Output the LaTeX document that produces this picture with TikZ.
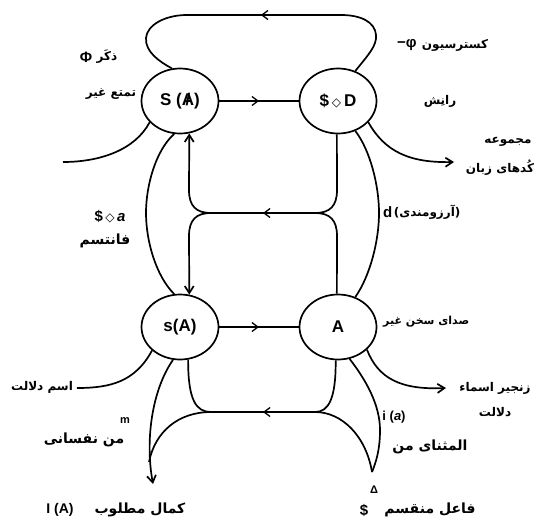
\documentclass[tikz,border=0pt]{standalone}
\usepackage{fontspec}
\setmainfont{Liberation Sans}
\newfontfamily\fa[Script=Arabic]{DejaVu Sans}
\newfontfamily\sym{DejaVu Sans}
\TeXXeTstate=1
\usetikzlibrary{arrows.meta,decorations.markings,shapes.geometric,positioning}

\newcommand{\barA}{\ooalign{A\cr\hidewidth/\hidewidth\cr}}
\newcommand{\dia}{{\sym\fontsize{12}{12}\selectfont ◇}}
\newcommand{\rtl}[1]{\beginR #1\endR}

\tikzset{
  place/.style={ellipse,draw,line width=1.7pt,minimum width=77pt,minimum height=65pt,
    inner sep=0pt,font=\bfseries\fontsize{17}{17}\selectfont},
  chain/.style={line width=1.7pt},
  midarrow/.style={postaction={decorate},decoration={markings,
    mark=at position .5 with {\arrow{Straight Barb[length=6pt,width=9pt,line width=1.3pt]}}}},
  tip/.style={-{Straight Barb[length=7pt,width=9pt]}},
  lab/.style={font=\bfseries\fontsize{15}{15}\selectfont,inner sep=0pt},
  falab/.style={font=\fa\bfseries\fontsize{12}{14}\selectfont,inner sep=0pt},
  bigfa/.style={font=\fa\bfseries\fontsize{14}{16}\selectfont,inner sep=0pt},
}

\begin{document}
\begin{tikzpicture}[x=1pt,y=-1pt]
  \useasboundingbox (0,0) rectangle (548,530);
  % the four places
  \node[place] (SA) at (180,101) {S (\barA)};
  \node[place] (SD) at (338,101) {\$\,\dia\,D};
  \node[place] (sA) at (180,327) {s(A)};
  \node[place] (A) at (338,327) {A};
  % junctions and loose ends
  \coordinate (jL) at (211,213);
  \coordinate (jR) at (315,213);
  \coordinate (jLb) at (211,412);
  \coordinate (jRb) at (315,412);
  \coordinate (cusp) at (372,472);
  \coordinate (jouis) at (63,162);
  \coordinate (codesTip) at (454,162);
  \coordinate (chainTip) at (446,388);
  \coordinate (dalEnd) at (77,388);
  \coordinate (IAtip) at (153,484);
  \coordinate (mergeL) at (149,462);

  % upper chain and its loop
  \draw[chain,midarrow] (SA) -- (SD);
  \draw[chain,midarrow] (SD.60) .. controls (368,55) and (377,46) .. (376,35)
    .. controls (375,22) and (361,15) .. (341,15) -- (187,15)
    .. controls (165,15) and (147,25) .. (146,38)
    .. controls (145,52) and (160,62) .. (SA.104);
  \draw[chain] (SA.-145) .. controls (135,150) and (100,162) .. (jouis);
  \draw[chain,tip] (SD.-35) .. controls (385,152) and (410,163) .. (codesTip);

  % middle return vector
  \draw[chain,midarrow] (jR) -- (jL);
  \draw[chain,tip] (jL) .. controls (196,213) and (189,206) .. (189,190) -- (SA.-74);
  \draw[chain,tip] (jL) .. controls (196,213) and (189,220) .. (189,236) -- (sA.74);
  \draw[chain] (jR) .. controls (330,213) and (337,206) .. (337,190) -- (SD.-92);
  \draw[chain] (jR) .. controls (330,213) and (337,220) .. (337,236) -- (A.92);
  \draw[chain] (SA.-100) .. controls (156,150) and (146,185) .. (146,213)
    .. controls (146,241) and (156,276) .. (sA.100);
  \draw[chain] (SD.-60) .. controls (370,150) and (379,185) .. (379,213)
    .. controls (379,241) and (370,276) .. (A.60);

  % lower chain
  \draw[chain,midarrow] (sA) -- (A);
  \draw[chain] (sA.-140) .. controls (135,382) and (110,388) .. (dalEnd);
  \draw[chain,tip] (A.-38) .. controls (378,378) and (400,390) .. (chainTip);
  \draw[chain] (sA.-76) .. controls (188,400) and (196,412) .. (jLb);
  \draw[chain] (A.-94) .. controls (336,400) and (328,412) .. (jRb);
  \draw[chain,midarrow] (jRb) -- (jLb);
  \draw[chain,tip] (sA.-102) .. controls (152,390) and (145,440) .. (IAtip);
  \draw[chain] (jLb) .. controls (178,412) and (155,432) .. (mergeL);
  \draw[chain] (A.-70) .. controls (366,380) and (380,405) .. (380,430)
    .. controls (380,450) and (376,462) .. (cusp);
  \draw[chain] (jRb) .. controls (342,412) and (366,436) .. (cusp);

  % labels
  \node[falab] (zakar) at (107,57) {\rtl{ذکَر}};
  \node[lab,left=4pt of zakar] (phi) {Φ};
  \node[falab] (tamatto) at (111,94) {\rtl{تمتع غیر}};
  \node[falab] (castr) at (455,45) {\rtl{کسترسیون}};
  \node[lab,left=5pt of castr] (mphi) {−φ};
  \node[falab] (ranesh) at (440,101) {\rtl{رانِش}};
  \node[falab] (majmu) at (508,142) {\rtl{مجموعه}};
  \node[falab] (codes) at (500,168) {\rtl{کُدهای زبان}};
  \node[lab,anchor=west] (dsmall) at (383,212) {d};
  \node[falab,right=1pt of dsmall] (arezu) {(آرزومندی)};
  \node[lab] (fant) at (110,217) {\$\,\dia\,\textit{a}};
  \node[bigfa] (fantT) at (105,241) {\rtl{فانتسم}};
  \node[falab,font=\fa\bfseries\fontsize{11}{13}\selectfont,anchor=west] (seda) at (383,322) {\rtl{صدای سخن غیر}};
  \node[falab] (zanjir) at (495,388) {\rtl{زنجیر اسماء}};
  \node[falab] (dalalat) at (495,412) {\rtl{دلالت}};
  \node[falab] (esm) at (42,387) {\rtl{اسم دلالت}};
  \node[font=\bfseries\fontsize{11}{11}\selectfont,inner sep=0pt] (msmall) at (125,421) {m};
  \node[bigfa] (nafs) at (84,440) {\rtl{من نفسانی}};
  \node[lab,font=\bfseries\fontsize{13}{13}\selectfont] (ia) at (394,417) {i (\textit{a})};
  \node[bigfa] (mosanna) at (430,447) {\rtl{المثنای من}};
  \node[lab,font=\bfseries\fontsize{14}{14}\selectfont] (IA) at (60,510) {I (A)};
  \node[bigfa] (kamal) at (140,510) {\rtl{کمال مطلوب}};
  \node[font=\bfseries\fontsize{11}{11}\selectfont,inner sep=0pt] (delta) at (374,490) {Δ};
  \node[lab] (bS) at (364,510) {\$};
  \node[bigfa] (fael) at (430,510) {\rtl{فاعل منقسم}};
\end{tikzpicture}
\end{document}
